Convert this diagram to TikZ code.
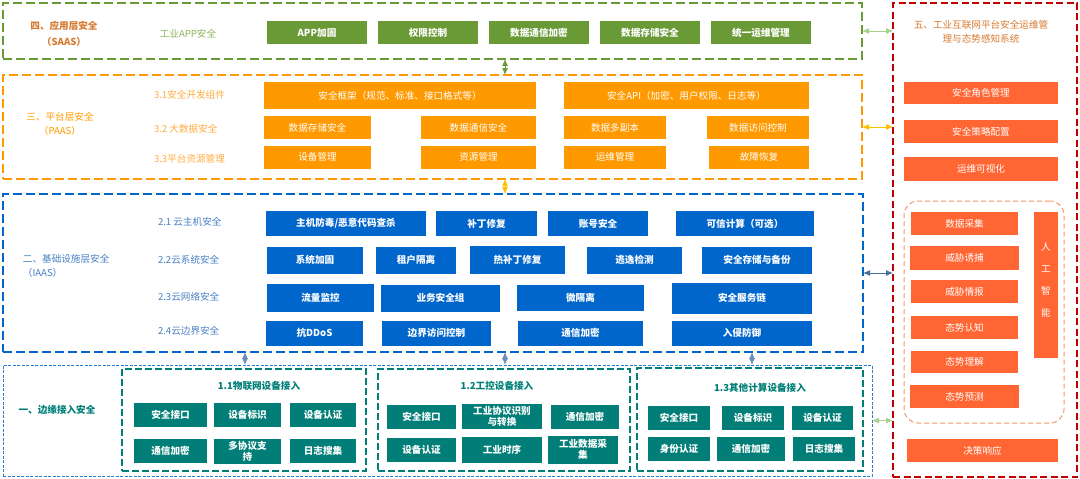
\documentclass[tikz,border=0pt]{standalone}
\usepackage{fontspec}
\setmainfont{Noto Sans CJK SC}
\usetikzlibrary{arrows.meta,positioning}
\definecolor{appgreen}{RGB}{106,154,54}
\definecolor{applabel}{RGB}{141,180,92}
\definecolor{titleamber}{RGB}{214,122,48}
\definecolor{platorange}{RGB}{255,153,0}
\definecolor{platlabel}{RGB}{255,172,64}
\definecolor{infrablue}{RGB}{0,102,204}
\definecolor{infralabel}{RGB}{72,128,196}
\definecolor{edgeteal}{RGB}{0,126,119}
\definecolor{opsred}{RGB}{192,0,0}
\definecolor{opsorange}{RGB}{255,102,51}
\definecolor{aiorange}{RGB}{247,150,100}
\definecolor{linkgreen}{RGB}{169,209,142}
\definecolor{linkgold}{RGB}{255,192,0}
\definecolor{linkblue}{RGB}{68,114,160}
\definecolor{linksteel}{RGB}{108,142,191}

\begin{document}
\begin{tikzpicture}[
  x=1pt, y=-1pt,
  every node/.append style={inner sep=1pt, outer sep=0pt},
  box/.style={anchor=west, minimum height=23pt, align=center, text=white, font=\fontsize{9.6}{11}\selectfont},
  appbox/.style={box, fill=appgreen, minimum width=100pt, font=\fontsize{9.6}{11}\selectfont\bfseries},
  platbox/.style={box, fill=platorange, minimum width=102pt},
  infrabox/.style={box, fill=infrablue, minimum height=25pt, font=\fontsize{9.6}{11}\selectfont\bfseries},
  edgebox/.style={box, fill=edgeteal, minimum height=24pt, font=\fontsize{9.6}{11}\selectfont\bfseries},
  opsbox/.style={box, fill=opsorange, minimum width=154pt},
  frame/.style={draw, anchor=north west, inner sep=0pt, line width=2.2pt, dash pattern=on 9pt off 4pt},
  groupframe/.style={draw=edgeteal, anchor=north west, inner sep=0pt, line width=2pt, dash pattern=on 7pt off 3pt},
  tag/.style={anchor=west, font=\fontsize{9.6}{11}\selectfont},
  link/.style={{Latex[length=7pt,width=6pt]}-{Latex[length=7pt,width=6pt]}, line width=1pt},
]
\useasboundingbox (0,0) rectangle (1080,479);

\node[frame, draw=appgreen, minimum width=859pt, minimum height=56pt] (saas) at (3,3) {};
\node[frame, draw=platorange, minimum width=859pt, minimum height=104pt] (paas) at (3,75) {};
\node[frame, draw=infrablue, minimum width=860pt, minimum height=158pt] (infra) at (3,194) {};
\node[draw=infrablue!85, anchor=north west, inner sep=0pt, line width=1pt, dash pattern=on 3pt off 1.5pt, minimum width=869pt, minimum height=111pt] (access) at (3,365) {};
\node[frame, draw=opsred, line width=2.4pt, dash pattern=on 7pt off 3.5pt, minimum width=184pt, minimum height=474pt] (ops) at (893,3) {};

\node[align=center, text=titleamber, font=\fontsize{9.6}{15.5}\selectfont\bfseries] (saastitle) at (64,34) {四、应用层安全\\（SAAS）};
\node[text=applabel, font=\fontsize{9.6}{11}\selectfont] (apptag) at (188,34) {工业APP安全};
\node[appbox] (apphard) at (267,32.5) {APP加固};
\node[appbox, right=11pt of apphard] (perm) {权限控制};
\node[appbox, right=11pt of perm] (datacomm) {数据通信加密};
\node[appbox, right=11pt of datacomm] (datastore) {数据存储安全};
\node[appbox, right=11pt of datastore] (unifiedops) {统一运维管理};

\node[align=center, text=platorange, font=\fontsize{9.6}{14}\selectfont] (paastitle) at (60,124) {三、平台层安全\\（PAAS）};
\node[tag, text=platlabel] (devtag) at (153,95) {3.1安全开发组件};
\node[tag, text=platlabel] (bigtag) at (153,129) {3.2 大数据安全};
\node[tag, text=platlabel] (restag) at (153,159) {3.3平台资源管理};
\node[platbox, minimum width=272pt, minimum height=27pt] (secframe) at (264,95.5) {安全框架（规范、标准、接口格式等）};
\node[platbox, minimum width=245pt, minimum height=27pt, right=28pt of secframe] (secapi) {安全API（加密、用户权限、日志等）};
\node[platbox, minimum width=107pt] (pstore) at (264,127.5) {数据存储安全};
\node[platbox, minimum width=115pt, right=50pt of pstore] (pcomm) {数据通信安全};
\node[platbox, right=28pt of pcomm] (replica) {数据多副本};
\node[platbox, right=41pt of replica] (accessctl) {数据访问控制};
\node[platbox, minimum width=107pt] (devmgmt) at (264,157) {设备管理};
\node[platbox, minimum width=115pt, right=50pt of devmgmt] (resmgmt) {资源管理};
\node[platbox, right=28pt of resmgmt] (opsmgmt) {运维管理};
\node[platbox, minimum width=100pt, right=43pt of opsmgmt] (recover) {故障恢复};

\node[tag, align=left, text=infralabel, font=\fontsize{9.6}{14}\selectfont] (iaastitle) at (22,266) {二、基础设施层安全\\（IAAS）};
\node[tag, text=infralabel] (hosttag) at (157,222) {2.1 云主机安全};
\node[tag, text=infralabel] (systag) at (157,260) {2.2云系统安全};
\node[tag, text=infralabel] (nettag) at (157,297) {2.3云网络安全};
\node[tag, text=infralabel] (bordertag) at (157,331) {2.4云边界安全};
\node[infrabox, minimum width=160pt] (antivirus) at (266,223.5) {主机防毒/恶意代码查杀};
\node[infrabox, minimum width=101pt, right=10pt of antivirus] (patch) {补丁修复};
\node[infrabox, minimum width=100pt, right=11pt of patch] (account) {账号安全};
\node[infrabox, minimum width=138pt, right=28pt of account] (trusted) {可信计算（可选）};
\node[infrabox, minimum width=96pt, minimum height=27pt] (harden) at (267,260) {系统加固};
\node[infrabox, minimum width=80pt, minimum height=27pt, right=13pt of harden] (tenant) {租户隔离};
\node[infrabox, minimum width=95pt, minimum height=28pt, right=14pt of tenant] (hotpatch) {热补丁修复};
\node[infrabox, minimum width=95pt, minimum height=27pt, right=22pt of hotpatch] (escape) {逃逸检测};
\node[infrabox, minimum width=110pt, minimum height=27pt, right=20pt of escape] (backup) {安全存储与备份};
\node[infrabox, minimum width=107pt, minimum height=28pt] (traffic) at (267,298) {流量监控};
\node[infrabox, minimum width=119pt, minimum height=27pt, right=7pt of traffic] (secgroup) {业务安全组};
\node[infrabox, minimum width=127pt, minimum height=26pt, right=17pt of secgroup] (microseg) {微隔离};
\node[infrabox, minimum width=140pt, minimum height=31pt, right=28pt of microseg] (svcchain) {安全服务链};
\node[infrabox, minimum width=97pt] (ddos) at (266,333) {抗DDoS};
\node[infrabox, minimum width=109pt, right=19pt of ddos] (borderctl) {边界访问控制};
\node[infrabox, minimum width=125pt, right=27pt of borderctl] (encrypt) {通信加密};
\node[infrabox, minimum width=140pt, right=29pt of encrypt] (ids) {入侵防御};

\node[text=edgeteal, font=\fontsize{9.6}{11}\selectfont\bfseries] (accesstitle) at (57,410) {一、边缘接入安全};
\node[groupframe, minimum width=244pt, minimum height=102pt] (iot) at (122,369) {};
\node[groupframe, minimum width=252pt, minimum height=102pt] (ics) at (378,369) {};
\node[groupframe, minimum width=226pt, minimum height=103pt] (other) at (637,368) {};
\node[text=edgeteal, font=\fontsize{9.6}{11}\selectfont\bfseries] (iottitle) at (259,386) {1.1物联网设备接入};
\node[text=edgeteal, font=\fontsize{9.6}{11}\selectfont\bfseries] (icstitle) at (497,386) {1.2工控设备接入};
\node[text=edgeteal, font=\fontsize{9.6}{11}\selectfont\bfseries] (othertitle) at (760,388) {1.3其他计算设备接入};

\node[edgebox, minimum width=73pt] (iotport) at (134,415) {安全接口};
\node[edgebox, minimum width=67pt, right=7pt of iotport] (iotid) {设备标识};
\node[edgebox, minimum width=66pt, right=9pt of iotid] (iotauth) {设备认证};
\node[edgebox, minimum width=73pt] (iotenc) at (134,451) {通信加密};
\node[edgebox, minimum width=67pt, minimum height=25pt, right=7pt of iotenc] (iotproto) {多协议支\\持};
\node[edgebox, minimum width=66pt, right=9pt of iotproto] (iotlog) {日志搜集};

\node[edgebox, minimum width=69pt] (icsport) at (387,416.5) {安全接口};
\node[edgebox, minimum width=80pt, minimum height=25pt, right=6pt of icsport] (icsproto) {工业协议识别\\与转换};
\node[edgebox, minimum width=68pt, right=9pt of icsproto] (icsenc) {通信加密};
\node[edgebox, minimum width=69pt] (icsauth) at (387,449.5) {设备认证};
\node[edgebox, minimum width=80pt, minimum height=26pt, right=6pt of icsauth] (icstime) {工业时序};
\node[edgebox, minimum width=70pt, minimum height=28pt, right=6pt of icstime] (icsdata) {工业数据采\\集};

\node[edgebox, minimum width=62pt] (otherport) at (648,418) {安全接口};
\node[edgebox, minimum width=62pt, right=12pt of otherport] (otherid) {设备标识};
\node[edgebox, minimum width=61pt, right=8pt of otherid] (otherauth) {设备认证};
\node[edgebox, minimum width=62pt] (otheruser) at (648,449) {身份认证};
\node[edgebox, minimum width=68pt, right=7pt of otheruser] (otherenc) {通信加密};
\node[edgebox, minimum width=62pt, right=8pt of otherenc] (otherlog) {日志搜集};

\node[align=center, text=titleamber, font=\fontsize{9.6}{14}\selectfont] (opstitle) at (981,31.5) {五、工业互联网平台安全运维管\\理与态势感知系统};
\node[opsbox, minimum height=22pt] (role) at (904,93) {安全角色管理};
\node[opsbox, below=16pt of role] (policy) {安全策略配置};
\node[opsbox, minimum height=24pt, below=14pt of policy] (visual) {运维可视化};
\node[draw=aiorange, anchor=north west, inner sep=0pt, line width=1pt, dash pattern=on 5pt off 3pt, rounded corners=14pt, minimum width=160pt, minimum height=222pt] (aiframe) at (904,201) {};
\node[opsbox, minimum width=107pt] (collect) at (911,223.5) {数据采集};
\node[opsbox, minimum width=109pt, minimum height=24pt, below=11pt of collect] (lure) {威胁诱捕};
\node[opsbox, minimum width=107pt, below=10pt of lure] (intel) {威胁情报};
\node[opsbox, minimum width=107pt, below=13pt of intel] (aware) {态势认知};
\node[opsbox, minimum width=107pt, minimum height=22pt, below=12pt of aware] (understand) {态势理解};
\node[opsbox, minimum width=109pt, below=12pt of understand] (predict) {态势预测};
\node[opsbox, anchor=north west, minimum width=24pt, minimum height=146pt, font=\fontsize{9.6}{22}\selectfont] (ai) at (1034,212) {人\\工\\智\\能\\[-10pt]};
\node[opsbox, minimum width=151pt] (decide) at (907,450.5) {决策响应};

\coordinate (midx) at (505,0);
\coordinate (iotx) at (245,0);
\coordinate (otherx) at (752,0);
\draw[link, appgreen] (saas.south -| midx) -- (paas.north -| midx);
\draw[link, linkgold] (paas.south -| midx) -- (infra.north -| midx);
\draw[link, linksteel] (access.north -| iotx) -- (infra.south -| iotx);
\draw[link, linksteel] (access.north -| midx) -- (infra.south -| midx);
\draw[link, linksteel] (access.north -| otherx) -- (infra.south -| otherx);

\draw[link, linkgreen] (saas.east) -- (ops.west |- saas.east);
\draw[link, linkgold] (paas.east) -- (ops.west |- paas.east);
\draw[link, linkblue] (infra.east) -- (ops.west |- infra.east);
\draw[link, linkgreen] (access.east) -- (ops.west |- access.east);
\end{tikzpicture}
\end{document}
